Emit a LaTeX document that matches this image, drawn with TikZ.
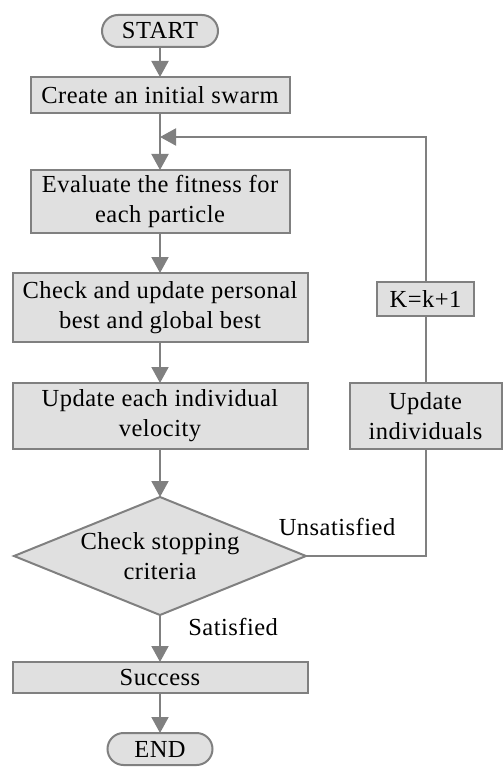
\documentclass[tikz,border=0pt]{standalone}
\usepackage{fontspec}
\setmainfont[LetterSpace=2]{Liberation Serif}
\usetikzlibrary{shapes,arrows.meta,positioning}
\tikzstyle{proc} = [rectangle, draw=gray, fill=black!12, line width=2pt, text centered, align=center, inner sep=0pt, outer sep=0pt]
\tikzstyle{term} = [rectangle, rounded corners=16pt, draw=gray, fill=black!12, line width=2pt, minimum height=32pt, inner sep=0pt, outer sep=0pt]
\tikzstyle{decision} = [diamond, draw=gray, fill=black!12, line width=2pt, inner sep=0pt, outer sep=0pt, minimum width=292pt, minimum height=118pt]

\begin{document}
\begin{tikzpicture}[->,>={Triangle[width=17pt,length=16pt]},x=1pt,y=1pt,
  font=\fontsize{24.5}{30}\selectfont,
  flow/.style={draw=gray, line width=2pt, every edge/.style={draw=gray, line width=2pt}}]
  \useasboundingbox (0,0) rectangle (503,-767);
          \node (start) [term, minimum width=116pt] at (160,-31) {START};
          \node (create) [proc, minimum width=259pt, minimum height=36pt, below=30pt of start] {Create an initial swarm};
          \node (evaluate) [proc, minimum width=259pt, minimum height=63pt, below=57pt of create] {Evaluate the fitness for\\each particle};
          \node (check) [proc, minimum width=295pt, minimum height=69pt, below=40pt of evaluate] {Check and update personal\\best and global best};
          \node (update) [proc, minimum width=295pt, minimum height=66pt, below=41pt of check] {Update each individual\\velocity};
          \node (decide) [decision, below=48pt of update] {};
          \node (decidetext) [align=center] at (decide) {Check stopping\\criteria};
          \node (success) [proc, minimum width=295pt, minimum height=31pt, below=47pt of decide] {Success};
          \node (finish) [term, minimum width=105pt, below=40pt of success] {END};
          \node (indiv) [proc, minimum width=152pt, minimum height=66pt, right=42pt of update] {Update\\individuals};
          \node (kplus) [proc, minimum width=97pt, minimum height=34pt, above=67pt of indiv] {K=k+1};
          \coordinate [below=24pt of create] (join);

           \path[flow]
            (start) edge (create)
            (create) edge (evaluate)
            (evaluate) edge (check)
            (check) edge (update)
            (update) edge (decide)
            (decide) edge node[pos=0.25, right=24pt] {Satisfied} (success)
            (success) edge (finish);
           \draw[flow, -] (decide.east) -| node[pos=0.13, above=16pt] {Unsatisfied} (indiv.south);
           \draw[flow, -] (indiv) -- (kplus);
           \draw[flow] (kplus.north) |- (join);
         \end{tikzpicture}
\end{document}
